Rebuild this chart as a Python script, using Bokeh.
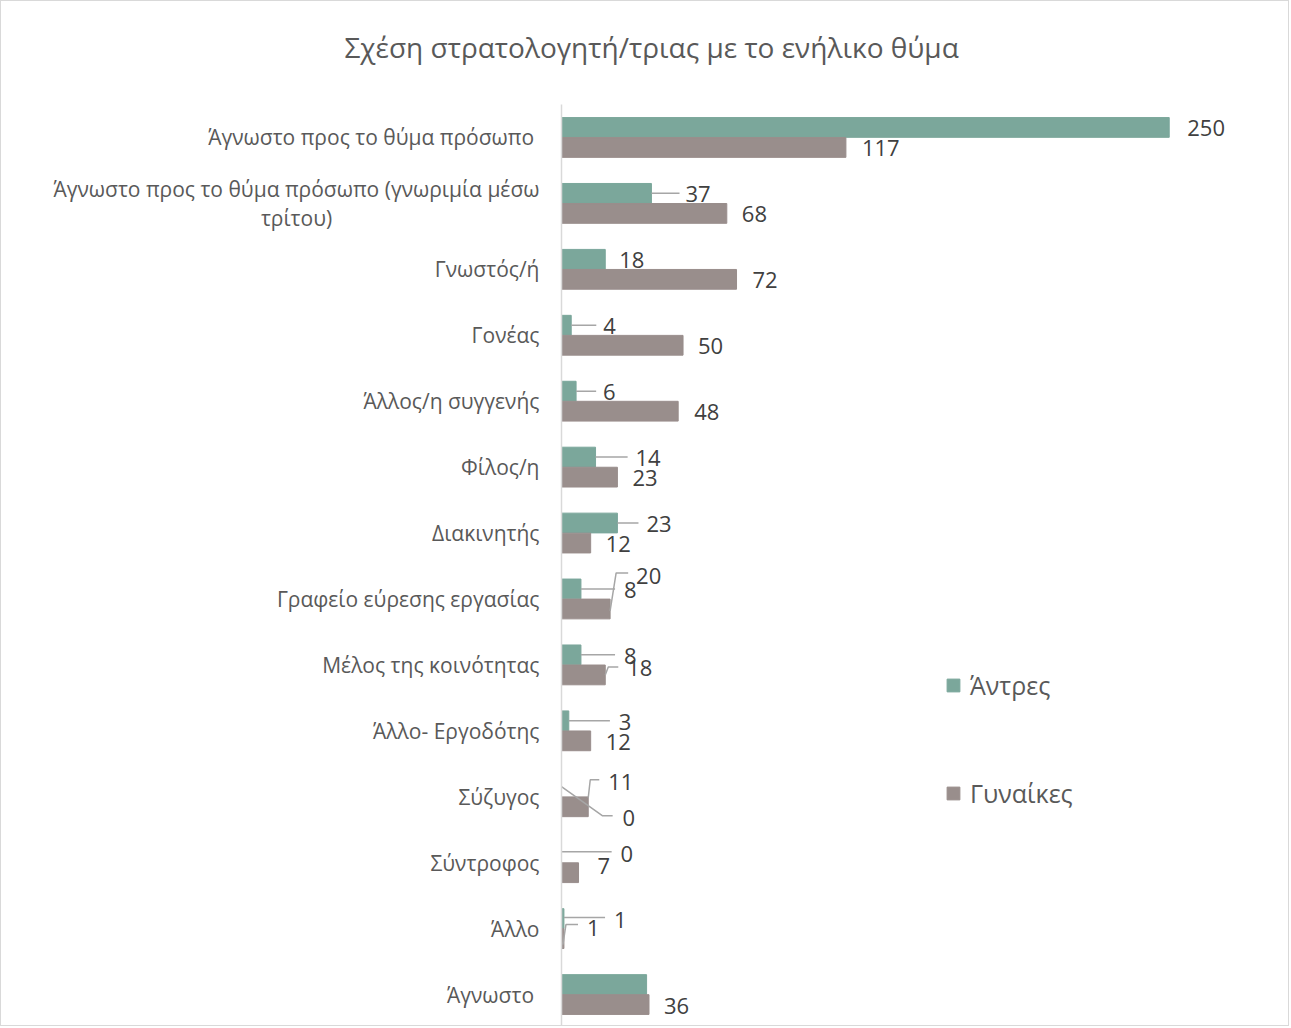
from bokeh.plotting import figure
from bokeh.models import ColumnDataSource, Range1d, FixedTicker, Legend, LegendItem, Title
from bokeh.embed import file_html
from bokeh.resources import INLINE

# ---------------- data ----------------
categories = [
    "Άγνωστο προς το θύμα πρόσωπο ",
    "Άγνωστο προς το θύμα πρόσωπο (γνωριμία μέσω\nτρίτου)",
    "Γνωστός/ή",
    "Γονέας",
    "Άλλος/η συγγενής",
    "Φίλος/η",
    "Διακινητής",
    "Γραφείο εύρεσης εργασίας",
    "Μέλος της κοινότητας",
    "Άλλο- Εργοδότης",
    "Σύζυγος",
    "Σύντροφος",
    "Άλλο",
    "Άγνωστο ",
]
men = [250, 37, 18, 4, 6, 14, 23, 8, 8, 3, 0, 0, 1, 35]
women = [117, 68, 72, 50, 48, 23, 12, 20, 18, 12, 11, 7, 1, 36]
series_names = ["Άντρες", "Γυναίκες"]
title_text = "Σχέση στρατολογητή/τριας με το ενήλικο θύμα"

# ---------------- layout / style ----------------
FONT = "Open Sans"
MEN_COLOR = "#7BA79B"
WOMEN_COLOR = "#998E8C"
TEXT_COLOR = "#595959"
LABEL_COLOR = "#404040"
LEADER_COLOR = "#A6A6A6"

W, H = 1289, 1026
INNER_W, INNER_H = W - 2, H - 2
BL, BR, BT, BB = 560, 24, 103, 0
FRAME_W = INNER_W - BL - BR
FRAME_H = INNER_H - BT - BB
PX_PER_UNIT = 2.424
X_END = FRAME_W / PX_PER_UNIT
N = len(categories)
XU = X_END / FRAME_W          # data units per px (x)
YU = N / FRAME_H              # data units per px (y)
BAR_H = 0.30
DODGE = 0.152

# centre the wrapped second line of the long label (layout padding only)
tick_labels = list(categories)
first, second = tick_labels[1].split("\n")
tick_labels[1] = first + "\n" + second + "\u00a0" * 38

# label placement (px offsets from bar end / bar centre); None = label hidden
men_lab_off = [(18, 1), (34, 1), (14, 1), (32, 1), (27, 1), (40, 1), (29, 1),
               (43, 1), (43, 1), (50, 1), (61, 31), (59, 1), (50, 1), None]
women_lab_off = [(16, 1), (15, 1), (16, 1), (15, 1), (16, 1), (15, 1), (15, 1),
                 (26, -33), (22, -7), (15, 1), (20, -25), (19, -7), (23, -11), (15, 1)]
men_leaders = {1: [(0, 0), (28, 0)], 3: [(0, 0), (25, 0)], 4: [(0, 0), (20, 0)],
               5: [(0, 0), (32, 0)], 6: [(0, 0), (21, 0)], 7: [(0, 0), (34, 0)],
               8: [(0, 0), (34, 0)], 9: [(0, 0), (41, 0)],
               10: [(0, 0), (41, 29), (51, 29)], 11: [(0, -1), (50, -1)],
               12: [(0, -1), (41, -1)]}
women_leaders = {7: [(0, 2), (6, -36), (18, -36)], 8: [(0, 0), (3, -8), (13, -8)],
                 10: [(0, -9), (2, -27), (11, -27)], 12: [(-1, 6), (2, -14), (14, -14)]}

ypos = [N - 1 - i for i in range(N)]
men_y = [y + DODGE for y in ypos]
women_y = [y - DODGE for y in ypos]

p = figure(width=W, height=H, output_backend="svg", toolbar_location=None,
           x_range=Range1d(0, X_END), y_range=Range1d(-0.5, N - 0.5),
           min_border_left=BL, min_border_right=BR, min_border_top=BT,
           min_border_bottom=BB, title=None)
p.styles = {"border": "1px solid #D9D9D9"}
p.outline_line_color = None
p.xgrid.visible = False
p.ygrid.visible = False
p.xaxis.visible = False

# spacer panel between frame and title, then the title itself
p.add_layout(Title(text=" ", text_font_size="1px", standoff=26), "above")
p.add_layout(Title(text=title_text, text_font=FONT, text_font_size="28px",
                   text_font_style="normal", text_color=TEXT_COLOR,
                   align="left", offset=-217, standoff=20), "above")

yax = p.yaxis[0]
yax.ticker = FixedTicker(ticks=ypos)
yax.major_label_overrides = {y: c for y, c in zip(ypos, tick_labels)}
yax.major_label_text_font = FONT
yax.major_label_text_font_size = "21px"
yax.major_label_text_line_height = 1.05
yax.major_label_text_color = TEXT_COLOR
yax.major_tick_line_color = None
yax.minor_tick_line_color = None
yax.major_tick_out = 0
yax.major_label_standoff = 22
yax.axis_line_color = "#D9D9D9"
yax.axis_line_width = 1.5

src_m = ColumnDataSource(dict(y=men_y, v=men))
src_w = ColumnDataSource(dict(y=women_y, v=women))
rm = p.hbar(y="y", right="v", left=0, height=BAR_H, color=MEN_COLOR, source=src_m)
rw = p.hbar(y="y", right="v", left=0, height=BAR_H, color=WOMEN_COLOR, source=src_w)

# leader lines
def leader_lines(vals, ys, leaders):
    xs_all, ys_all = [], []
    for i, pts in leaders.items():
        xs_all.append([vals[i] + dx * XU for dx, dy in pts])
        ys_all.append([ys[i] - dy * YU for dx, dy in pts])
    return xs_all, ys_all

lx, ly = leader_lines(men, men_y, men_leaders)
wx, wy = leader_lines(women, women_y, women_leaders)
p.multi_line(xs=lx + wx, ys=ly + wy, line_color=LEADER_COLOR, line_width=1.5)

# data labels
def label_source(vals, ys, offs):
    d = dict(x=[], y=[], t=[], dx=[], dy=[])
    for v, y, o in zip(vals, ys, offs):
        if o is None:
            continue
        d["x"].append(v)
        d["y"].append(y)
        d["t"].append(str(v))
        d["dx"].append(o[0])
        d["dy"].append(o[1])
    return ColumnDataSource(d)

for vals, ys, offs in ((men, men_y, men_lab_off), (women, women_y, women_lab_off)):
    p.text(x="x", y="y", text="t", x_offset="dx", y_offset="dy",
           source=label_source(vals, ys, offs), text_font_size="22px",
           text_color=LABEL_COLOR, text_align="left", text_baseline="middle",
           text_font={"value": FONT})

legend = Legend(items=[LegendItem(label=series_names[0], renderers=[rm]),
                       LegendItem(label=series_names[1], renderers=[rw])],
                location=(384, 217), orientation="vertical")
legend.label_text_font = FONT
legend.label_text_font_size = "25px"
legend.label_text_color = TEXT_COLOR
legend.glyph_width = 16
legend.glyph_height = 16
legend.label_height = 22
legend.label_standoff = 9
legend.spacing = 74
legend.padding = 0
legend.margin = 0
legend.border_line_color = None
legend.background_fill_alpha = 0
p.add_layout(legend)

open("out.html", "w").write(file_html(p, INLINE))
